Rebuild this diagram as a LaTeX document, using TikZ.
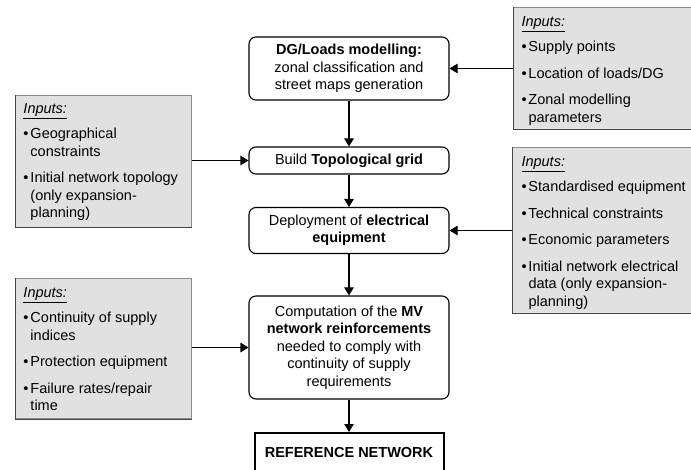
\documentclass[tikz,border=0pt]{standalone}
\usepackage{fontspec}
\setmainfont{Liberation Sans}
\usetikzlibrary{arrows.meta}
\definecolor{boxfill}{RGB}{225,225,225}
\definecolor{boxedge}{RGB}{140,140,140}
\definecolor{boxshade}{RGB}{70,70,70}

% an "Inputs:" panel: left indent, text width, list of items
\newcommand\inputbox[3]{\hspace*{#1pt}\begin{minipage}[t]{#2pt}\raggedright
  \fontsize{14.5pt}{17.5pt}\selectfont
  \textit{\underline{Inputs:}}\par\vspace{-1.5pt}#3\end{minipage}}
% one bulleted entry; \newline keeps the hanging indent of the entry
\newcommand\initem[1]{\par\vspace{9pt}\hangindent=7pt\hangafter=1\noindent
  \makebox[7pt][l]{•}#1}

\begin{document}
\begin{tikzpicture}[x=1pt,y=-1pt,
  every node/.style={font=\fontsize{14.5pt}{17.5pt}\selectfont, text=black},
  proc/.style={draw=black, line width=1.1pt, rounded corners=7pt, align=center,
    minimum width=200pt, inner sep=2pt},
  refbox/.style={draw=black, line width=2pt, minimum width=189pt, minimum height=40pt,
    font=\fontsize{14.5pt}{17.5pt}\selectfont\bfseries},
  inbox/.style={draw=boxedge, fill=boxfill, line width=1pt, anchor=north west,
    inner xsep=0pt, inner ysep=0pt},
  shade/.style={draw=boxshade, line width=1pt},
  arr/.style={line width=1.1pt, -{Triangle[width=9.5pt,length=8pt]}}
]
\useasboundingbox (0,0) rectangle (691,470);

% main process chain
\node[proc, minimum height=63pt] (dg) at (349,68.5)
  {\textbf{DG/Loads modelling:}\\zonal classification and\\street maps generation};
\node[proc, minimum height=27pt] (build) at (349,160.5)
  {Build \textbf{Topological grid}};
\node[proc, minimum height=46pt] (deploy) at (349,230.5)
  {Deployment of \textbf{electrical}\\\textbf{equipment}};
\node[proc, minimum height=103pt] (comp) at (349,347.5)
  {Computation of the \textbf{MV}\\\textbf{network reinforcements}\\needed to comply with\\continuity of supply\\requirements};
\node[refbox] (ref) at (349,453) {REFERENCE NETWORK};

% input panels
\node[inbox, text height=18.5pt, text depth=113.5pt] (lin1) at (15,95)
  {\inputbox{8}{168}{%
   \initem{Geographical\newline constraints}%
   \initem{Initial network topology\newline (only expansion-\newline planning)}}};
\node[inbox, text height=19.5pt, text depth=120.5pt] (lin2) at (15,278)
  {\inputbox{8}{168}{%
   \initem{Continuity of supply\newline indices}%
   \initem{Protection equipment}%
   \initem{Failure rates/repair\newline time}}};
\node[inbox, text height=19.5pt, text depth=102.5pt] (rin1) at (513,7)
  {\inputbox{8}{171}{%
   \initem{Supply points}%
   \initem{Location of loads/DG}%
   \initem{Zonal modelling\newline parameters}}};
\node[inbox, text height=19.5pt, text depth=146.5pt] (rin2) at (512,147)
  {\inputbox{9}{171}{%
   \initem{Standardised equipment}%
   \initem{Technical constraints}%
   \initem{Economic parameters}%
   \initem{Initial network electrical\newline data (only expansion-\newline planning)}}};

% darker left and bottom edges of the panels
\foreach \p in {lin1,lin2,rin1,rin2}
  \draw[shade] (\p.north west) -- (\p.south west) -- (\p.south east);

% flow
\draw[arr] (dg.south) -- (build.north);
\draw[arr] (build.south) -- (deploy.north);
\draw[arr] (deploy.south) -- (comp.north);
\draw[arr] (comp.south) -- (ref.north);

% inputs feeding the steps
\draw[arr] (rin1.west |- dg.east) -- (dg.east);
\draw[arr] (lin1.east |- build.west) -- (build.west);
\draw[arr] (rin2.west |- deploy.east) -- (deploy.east);
\draw[arr] (lin2.east |- comp.west) -- (comp.west);
\end{tikzpicture}
\end{document}
